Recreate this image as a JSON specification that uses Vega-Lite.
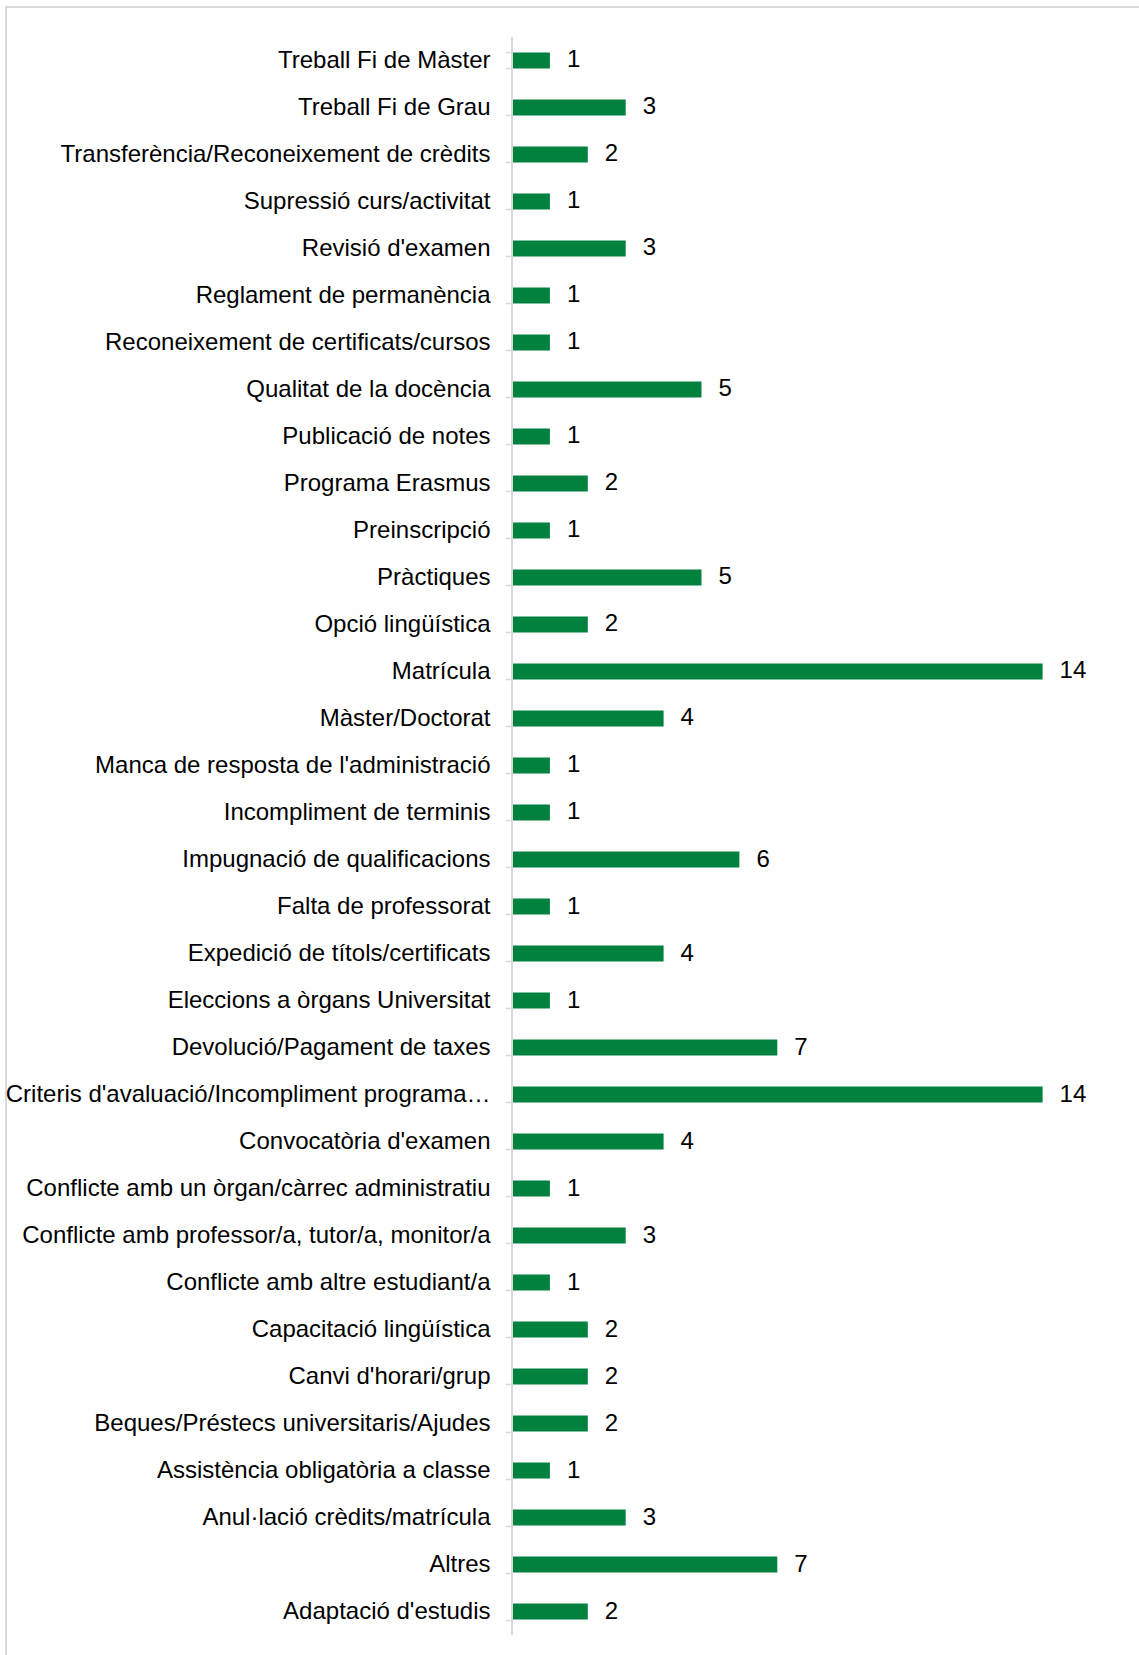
{
  "$schema": "https://vega.github.io/schema/vega-lite/v6.json",
  "width": 1139,
  "height": 1658,
  "autosize": {"type": "none"},
  "padding": {"left": 6, "top": 7, "right": 0, "bottom": 0},
  "background": "white",
  "config": {"view": {"stroke": "#d9d9d9", "strokeWidth": 2}, "font": "Liberation Sans"},
  "data": {"values": [
    {"motiu": "Treball Fi de Màster", "n": 1},
    {"motiu": "Treball Fi de Grau", "n": 3},
    {"motiu": "Transferència/Reconeixement de crèdits", "n": 2},
    {"motiu": "Supressió curs/activitat", "n": 1},
    {"motiu": "Revisió d'examen", "n": 3},
    {"motiu": "Reglament de permanència", "n": 1},
    {"motiu": "Reconeixement de certificats/cursos", "n": 1},
    {"motiu": "Qualitat de la docència", "n": 5},
    {"motiu": "Publicació de notes", "n": 1},
    {"motiu": "Programa Erasmus", "n": 2},
    {"motiu": "Preinscripció", "n": 1},
    {"motiu": "Pràctiques", "n": 5},
    {"motiu": "Opció lingüística", "n": 2},
    {"motiu": "Matrícula", "n": 14},
    {"motiu": "Màster/Doctorat", "n": 4},
    {"motiu": "Manca de resposta de l'administració", "n": 1},
    {"motiu": "Incompliment de terminis", "n": 1},
    {"motiu": "Impugnació de qualificacions", "n": 6},
    {"motiu": "Falta de professorat", "n": 1},
    {"motiu": "Expedició de títols/certificats", "n": 4},
    {"motiu": "Eleccions a òrgans Universitat", "n": 1},
    {"motiu": "Devolució/Pagament de taxes", "n": 7},
    {"motiu": "Criteris d'avaluació/Incompliment programa…", "n": 14},
    {"motiu": "Convocatòria d'examen", "n": 4},
    {"motiu": "Conflicte amb un òrgan/càrrec administratiu", "n": 1},
    {"motiu": "Conflicte amb professor/a, tutor/a, monitor/a", "n": 3},
    {"motiu": "Conflicte amb altre estudiant/a", "n": 1},
    {"motiu": "Capacitació lingüística", "n": 2},
    {"motiu": "Canvi d'horari/grup", "n": 2},
    {"motiu": "Beques/Préstecs universitaris/Ajudes", "n": 2},
    {"motiu": "Assistència obligatòria a classe", "n": 1},
    {"motiu": "Anul·lació crèdits/matrícula", "n": 3},
    {"motiu": "Altres", "n": 7},
    {"motiu": "Adaptació d'estudis", "n": 2}
  ]},
  "encoding": {
    "y": {
      "field": "motiu",
      "type": "nominal",
      "sort": null,
      "scale": {
        "domain": ["Treball Fi de Màster", "Treball Fi de Grau", "Transferència/Reconeixement de crèdits", "Supressió curs/activitat", "Revisió d'examen", "Reglament de permanència", "Reconeixement de certificats/cursos", "Qualitat de la docència", "Publicació de notes", "Programa Erasmus", "Preinscripció", "Pràctiques", "Opció lingüística", "Matrícula", "Màster/Doctorat", "Manca de resposta de l'administració", "Incompliment de terminis", "Impugnació de qualificacions", "Falta de professorat", "Expedició de títols/certificats", "Eleccions a òrgans Universitat", "Devolució/Pagament de taxes", "Criteris d'avaluació/Incompliment programa…", "Convocatòria d'examen", "Conflicte amb un òrgan/càrrec administratiu", "Conflicte amb professor/a, tutor/a, monitor/a", "Conflicte amb altre estudiant/a", "Capacitació lingüística", "Canvi d'horari/grup", "Beques/Préstecs universitaris/Ajudes", "Assistència obligatòria a classe", "Anul·lació crèdits/matrícula", "Altres", "Adaptació d'estudis"],
        "paddingInner": 0.66,
        "paddingOuter": 0.968
      },
      "axis": {
        "title": null,
        "orient": "left",
        "offset": -506,
        "domain": false,
        "grid": false,
        "ticks": true,
        "tickBand": "extent",
        "tickColor": "#d9d9d9",
        "tickSize": 7,
        "tickWidth": 1.5,
        "labelFontSize": 24,
        "labelColor": "#000000",
        "labelFont": "Liberation Sans",
        "labelPadding": 15,
        "labelLimit": 1000
      }
    }
  },
  "layer": [
    {
      "mark": {"type": "bar", "color": "#00823E"},
      "encoding": {
        "x": {"field": "n", "type": "quantitative", "scale": {"domain": [-13.351, 16.702], "nice": false, "zero": false}, "axis": null},
        "x2": {"datum": 0}
      }
    },
    {
      "mark": {"type": "text", "align": "left", "baseline": "middle", "dx": 17, "fontSize": 24, "font": "Liberation Sans", "color": "#000000"},
      "encoding": {
        "x": {"field": "n", "type": "quantitative"},
        "text": {"field": "n", "type": "quantitative"}
      }
    },
    {
      "data": {"values": [{"a": "Treball Fi de Màster", "b": "Adaptació d'estudis"}]},
      "mark": {"type": "rule", "color": "#d9d9d9", "strokeWidth": 2, "yOffset": -23.5, "y2Offset": 23.5},
      "encoding": {
        "x": {"datum": 0},
        "y": {"field": "a", "type": "nominal"},
        "y2": {"field": "b"}
      }
    }
  ]
}
